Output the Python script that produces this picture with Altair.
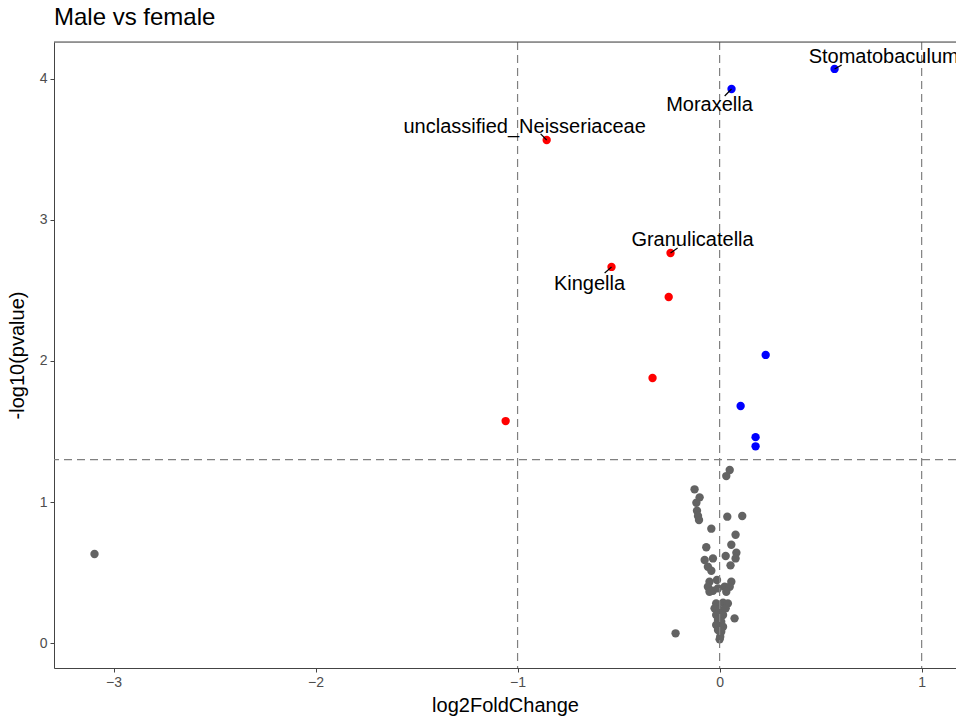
import altair as alt
import pandas as pd

# ---- data ----
gray_x = [0.050, 0.033, -0.124, -0.099, -0.115, -0.112, -0.107, -0.102, 0.038, 0.112,
          -0.041, 0.079, -0.066, 0.058, 0.083, 0.030, 0.079, -0.074, -0.033, -0.058,
          0.054, -0.041, -0.050, -0.013, -0.058, -0.033, -0.050, 0.025, 0.058, 0.050,
          0.033, -0.008, -0.017, 0.017, 0.041, -0.025, 0.000, 0.030, -0.017, 0.017,
          0.074, -0.008, 0.008, -0.017, 0.017, -0.008, 0.008, 0.000, 0.003, -0.218,
          -3.094]
gray_y = [1.227, 1.184, 1.090, 1.033, 0.995, 0.938, 0.901, 0.872, 0.896, 0.901,
          0.811, 0.768, 0.679, 0.697, 0.640, 0.617, 0.600, 0.589, 0.600, 0.541,
          0.551, 0.513, 0.435, 0.447, 0.399, 0.371, 0.364, 0.399, 0.435, 0.399,
          0.364, 0.388, 0.281, 0.286, 0.281, 0.246, 0.234, 0.246, 0.199, 0.199,
          0.175, 0.163, 0.151, 0.128, 0.116, 0.092, 0.080, 0.026, 0.045, 0.069,
          0.631]

red_x = [-0.856, -0.243, -0.535, -0.252, -0.332, -1.059]
red_y = [3.567, 2.766, 2.667, 2.454, 1.879, 1.574]

blue_x = [0.569, 0.059, 0.228, 0.104, 0.178, 0.178]
blue_y = [4.071, 3.929, 2.043, 1.681, 1.460, 1.395]

label_names = ["Stomatobaculum", "Moraxella", "unclassified_Neisseriaceae",
               "Granulicatella", "Kingella"]
label_px = [0.569, 0.059, -0.856, -0.243, -0.535]
label_py = [4.071, 3.929, 3.567, 2.766, 2.667]
label_sx = [0.604, 0.025, -0.886, -0.208, -0.569]
label_sy = [4.099, 3.879, 3.610, 2.801, 2.624]
label_tx = [0.812, -0.050, -0.965, -0.134, -0.644]
label_ty = [4.156, 3.816, 3.660, 2.858, 2.546]

vlines = [-1, 0, 1]
hlines = [1.301]

x_ticks = [-3, -2, -1, 0, 1]
y_ticks = [0, 1, 2, 3, 4]

FONT = "Liberation Sans"

# ---- tables ----
pts = pd.DataFrame({
    "log2FoldChange": gray_x + red_x + blue_x,
    "pval": gray_y + red_y + blue_y,
    "group": ["ns"] * len(gray_x) + ["down"] * len(red_x) + ["up"] * len(blue_x),
})
labels = pd.DataFrame({"name": label_names, "px": label_px, "py": label_py,
                       "sx": label_sx, "sy": label_sy, "tx": label_tx, "ty": label_ty})
vdf = pd.DataFrame({"v": vlines})
hdf = pd.DataFrame({"h": hlines})

xs = alt.Scale(domain=[-3.2945, 1.17], nice=False, zero=False)
ys = alt.Scale(domain=[-0.177, 4.262], nice=False, zero=False)

W, H = 902, 626

points = alt.Chart(pts).mark_circle(size=70, opacity=1).encode(
    x=alt.X("log2FoldChange:Q", scale=xs,
            axis=alt.Axis(values=x_ticks, title="log2FoldChange", grid=False,
                          format="d", tickSize=4, tickColor="#444", domainColor="#444",
                          labelColor="#4d4d4d", labelFontSize=14, labelFont=FONT,
                          titleFont=FONT, titleFontSize=20, titleFontWeight="normal",
                          titleColor="#000", labelPadding=3, titlePadding=6)),
    y=alt.Y("pval:Q", scale=ys,
            axis=alt.Axis(values=y_ticks, title="-log10(pvalue)", grid=False,
                          format="d", tickSize=4, tickColor="#444", domainColor="#444",
                          labelColor="#4d4d4d", labelFontSize=14, labelFont=FONT,
                          titleFont=FONT, titleFontSize=20, titleFontWeight="normal",
                          titleColor="#000", labelPadding=3, titlePadding=12)),
    color=alt.Color("group:N", scale=alt.Scale(domain=["ns", "down", "up"],
                                               range=["#636363", "#ff0000", "#0000ff"]),
                    legend=None),
)

vr = alt.Chart(vdf).mark_rule(color="#808080", strokeDash=[8, 5], strokeWidth=1.2).encode(
    x=alt.X("v:Q", scale=xs))
hr = alt.Chart(hdf).mark_rule(color="#808080", strokeDash=[8, 5], strokeWidth=1.2).encode(
    y=alt.Y("h:Q", scale=ys))

segs = alt.Chart(labels).mark_rule(color="#000", strokeWidth=1.2).encode(
    x=alt.X("px:Q", scale=xs), y=alt.Y("py:Q", scale=ys),
    x2="sx:Q", y2="sy:Q")

texts = alt.Chart(labels).mark_text(font=FONT, fontSize=20, color="#000",
                                    align="center", baseline="middle").encode(
    x=alt.X("tx:Q", scale=xs), y=alt.Y("ty:Q", scale=ys), text="name:N")

top_border = alt.Chart(hdf).mark_rule(color="#444", strokeWidth=1).encode(
    x=alt.value(0), x2=alt.value(W), y=alt.value(0))

chart = alt.layer(points, vr, hr, segs, texts, top_border).properties(
    width=W, height=H,
    title=alt.TitleParams("Male vs female", anchor="start", frame="group", fontSize=24,
                          font=FONT, fontWeight="normal", color="#000", offset=11),
    autosize=alt.AutoSizeParams(type="none"),
    padding={"left": 54, "top": 42, "right": 0, "bottom": 51},
).configure_view(stroke=None).configure(background="white")

chart.save("out.html", embed_options={"renderer": "svg", "actions": False})
